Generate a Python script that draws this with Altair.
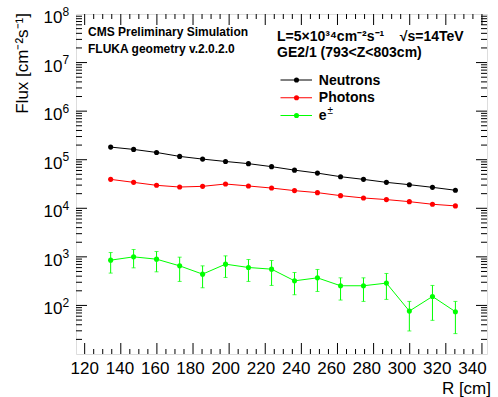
import altair as alt
import pandas as pd

# ---------------- data ----------------
R = [134.4, 147.1, 159.8, 172.6, 185.3, 198.0, 210.7, 223.5,
     236.2, 248.9, 261.7, 274.4, 287.1, 299.8, 312.6, 325.3]
neutrons = [1.82e5, 1.63e5, 1.41e5, 1.17e5, 1.03e5, 9.2e4, 8.3e4, 7.2e4,
            6.1e4, 5.3e4, 4.47e4, 3.94e4, 3.42e4, 3.06e4, 2.70e4, 2.35e4]
photons = [3.94e4, 3.42e4, 2.97e4, 2.74e4, 2.83e4, 3.16e4, 2.88e4, 2.61e4,
           2.31e4, 2.10e4, 1.82e4, 1.63e4, 1.51e4, 1.37e4, 1.21e4, 1.12e4]
electrons = [855, 1000, 896, 653, 441, 707, 604, 558,
             321, 370, 254, 254, 288, 76.5, 153, 74.3]
electrons_hi = [1227, 1415, 1287, 985, 653, 1048, 881, 841,
                477, 550, 370, 370, 455, 121, 258, 121]
electrons_lo = [463, 594, 492, 312, 231, 377, 312, 258,
                166, 194, 129, 121, 133, 29.8, 49.3, 26.3]

series = ["Neutrons", "Photons", "e±"]
colors = ["#000000", "#ff0000", "#00ff00"]

x_major = [120, 140, 160, 180, 200, 220, 240, 260, 280, 300, 320, 340]
x_minor = [125, 130, 135, 145, 150, 155, 165, 170, 175, 185, 190, 195,
           205, 210, 215, 225, 230, 235, 245, 250, 255, 265, 270, 275,
           285, 290, 295, 305, 310, 315, 325, 330, 335]
y_exponents = [2, 3, 4, 5, 6, 7, 8]
y_mult = [2, 3, 4, 5, 6, 7, 8, 9]
y_decades_all = [1, 2, 3, 4, 5, 6, 7]

W, H = 411, 340
FONT = "Liberation Sans"
NB = "\u00a0"

rows = []
for name, vals in zip(series, [neutrons, photons, electrons]):
    for i, (r, v) in enumerate(zip(R, vals)):
        rows.append({"series": name, "R": r, "flux": v})
df = pd.DataFrame(rows)
df_err = pd.DataFrame({"R": R, "flux": electrons, "lo": electrons_lo, "hi": electrons_hi})

xscale = alt.Scale(domain=[115.2, 342.8], nice=False, zero=False)
yscale = alt.Scale(type="log", domain=[10, 1e8], nice=False)
cscale = alt.Scale(domain=series, range=colors)

# ---------------- grid (axes with grid only) ----------------
grid_df = pd.DataFrame({"R": [R[0]], "flux": [neutrons[0]]})
grid = alt.Chart(grid_df).mark_point(opacity=0).encode(
    x=alt.X("R:Q", scale=xscale,
            axis=alt.Axis(values=x_major, grid=True, gridDash=[1, 2], gridColor="#000",
                          gridWidth=1, gridOpacity=0.85, labels=False, ticks=False,
                          domain=False, title=None)),
    y=alt.Y("flux:Q", scale=yscale,
            axis=alt.Axis(values=[10 ** e for e in y_exponents], grid=True, gridDash=[1, 2],
                          gridColor="#000", gridWidth=1, gridOpacity=0.85, labels=False,
                          ticks=False, domain=False, title=None)),
)

# ---------------- data marks ----------------
lines = alt.Chart(df).mark_line(strokeWidth=1).encode(
    x=alt.X("R:Q", scale=xscale, axis=None),
    y=alt.Y("flux:Q", scale=yscale, axis=None),
    color=alt.Color("series:N", scale=cscale, legend=None),
    detail="series:N",
)
err = alt.Chart(df_err).mark_rule(color="#00ff00", strokeWidth=1).encode(
    x=alt.X("R:Q", scale=xscale, axis=None),
    y=alt.Y("lo:Q", scale=yscale, axis=None),
    y2="hi:Q",
)
cap_lo = alt.Chart(df_err).mark_tick(color="#00ff00", orient="horizontal", size=4, thickness=1).encode(
    x=alt.X("R:Q", scale=xscale, axis=None),
    y=alt.Y("lo:Q", scale=yscale, axis=None),
)
cap_hi = alt.Chart(df_err).mark_tick(color="#00ff00", orient="horizontal", size=4, thickness=1).encode(
    x=alt.X("R:Q", scale=xscale, axis=None),
    y=alt.Y("hi:Q", scale=yscale, axis=None),
)
pts = alt.Chart(df).mark_circle(size=26, opacity=1).encode(
    x=alt.X("R:Q", scale=xscale, axis=None),
    y=alt.Y("flux:Q", scale=yscale, axis=None),
    color=alt.Color("series:N", scale=cscale, legend=None),
)

# ---------------- inside frame ticks ----------------
ymin_df = pd.DataFrame({"v": [m * 10 ** d for d in y_decades_all for m in y_mult]})
ymaj_df = pd.DataFrame({"v": [10 ** e for e in y_exponents[:-1]]})
xmin_df = pd.DataFrame({"v": x_minor})
xmaj_df = pd.DataFrame({"v": x_major})


def yticks(d, length):
    left = alt.Chart(d).mark_rule(color="#000", strokeWidth=1).encode(
        y=alt.Y("v:Q", scale=yscale, axis=None), x=alt.value(0), x2=alt.value(length))
    right = alt.Chart(d).mark_rule(color="#000", strokeWidth=1).encode(
        y=alt.Y("v:Q", scale=yscale, axis=None), x=alt.value(W - length), x2=alt.value(W))
    return [left, right]


def xticks(d, length):
    bot = alt.Chart(d).mark_rule(color="#000", strokeWidth=1).encode(
        x=alt.X("v:Q", scale=xscale, axis=None), y=alt.value(H - length), y2=alt.value(H))
    top = alt.Chart(d).mark_rule(color="#000", strokeWidth=1).encode(
        x=alt.X("v:Q", scale=xscale, axis=None), y=alt.value(0), y2=alt.value(length))
    return [bot, top]


ticks = yticks(ymin_df, 6) + yticks(ymaj_df, 11) + xticks(xmin_df, 5) + xticks(xmaj_df, 11)

# ---------------- tick labels ----------------
ylab_df = pd.DataFrame({"v": [10 ** e for e in y_exponents], "e": [str(e) for e in y_exponents]})
ylab_base = alt.Chart(ylab_df).mark_text(
    text="10", font=FONT, fontSize=17, align="right", baseline="alphabetic", dy=9).encode(
    y=alt.Y("v:Q", scale=yscale, axis=None), x=alt.value(-13.5))
ylab_exp = alt.Chart(ylab_df).mark_text(
    font=FONT, fontSize=12, align="left", baseline="alphabetic", dy=1.5).encode(
    y=alt.Y("v:Q", scale=yscale, axis=None), x=alt.value(-13.5), text="e:N")

xlab_df = pd.DataFrame({"v": x_major})
xlab = alt.Chart(xlab_df).transform_calculate(
    pos="120 + (datum.v - 120) * 0.976").mark_text(
    font=FONT, fontSize=17, align="center", baseline="alphabetic").encode(
    x=alt.X("pos:Q", scale=xscale, axis=None), y=alt.value(H + 20), text="v:N")

# ---------------- titles & annotations ----------------
def txt(s, x, y, size, bold=False, align="left", angle=0):
    kw = dict(text=s, font=FONT, fontSize=size, align=align, baseline="alphabetic",
              fontWeight="bold" if bold else "normal", color="#000")
    if angle:
        kw["angle"] = angle
    return alt.Chart(grid_df).mark_text(**kw).encode(x=alt.value(x), y=alt.value(y))


annots = [
    txt("Flux [cm⁻²s⁻¹]", -48, -1, 17, align="right", angle=270),
    txt("R [cm]", W + 4, H + 40, 17, align="right"),
    txt("CMS Preliminary Simulation", 12, 22, 12, bold=True),
    txt("FLUKA geometry v.2.0.2.0", 12, 38.5, 12, bold=True),
    txt("L=5×10³⁴cm⁻²s⁻¹" + NB * 4 + "√s=14TeV", 201, 26.7, 14, bold=True),
    txt("GE2/1 (793<Z<803cm)", 201, 42.7, 14, bold=True),
]

main = alt.layer(grid, lines, err, cap_lo, cap_hi, pts, *ticks, ylab_base, ylab_exp, xlab, *annots)

# ---------------- legend ----------------
leg_df = pd.DataFrame({"series": series, "label": ["Neutrons", "Photons", "e"],
                       "sup": ["", "", "±"]})
ly = alt.Y("series:N", scale=alt.Scale(type="point", domain=series, range=[66, 101.5], padding=0),
           axis=None)
leg_line = alt.Chart(leg_df).mark_rule(strokeWidth=1).encode(
    y=ly, x=alt.value(204.5), x2=alt.value(236),
    color=alt.Color("series:N", scale=cscale, legend=None))
leg_pt = alt.Chart(leg_df).mark_circle(size=26, opacity=1).encode(
    y=ly, x=alt.value(220.5), color=alt.Color("series:N", scale=cscale, legend=None))
leg_txt = alt.Chart(leg_df).mark_text(
    font=FONT, fontSize=14, fontWeight="bold", align="left", baseline="alphabetic", dy=4.5).encode(
    y=ly, x=alt.value(242.8), text="label:N")
leg_sup = alt.Chart(leg_df).mark_text(
    font=FONT, fontSize=10, fontWeight="normal", align="left", baseline="alphabetic", dy=-1.5).encode(
    y=ly, x=alt.value(251.5), text="sup:N")
legend = alt.layer(leg_line, leg_pt, leg_txt, leg_sup)

chart = alt.layer(main, legend).resolve_scale(y="independent", color="shared").properties(
    width=W, height=H,
    padding={"left": 76, "top": 14, "right": 11, "bottom": 43},
    autosize=alt.AutoSizeParams(type="none"),
).configure_view(stroke="#000", strokeWidth=1.5).configure(background="white")

chart.save("out.html", embed_options={"renderer": "svg", "actions": False})
